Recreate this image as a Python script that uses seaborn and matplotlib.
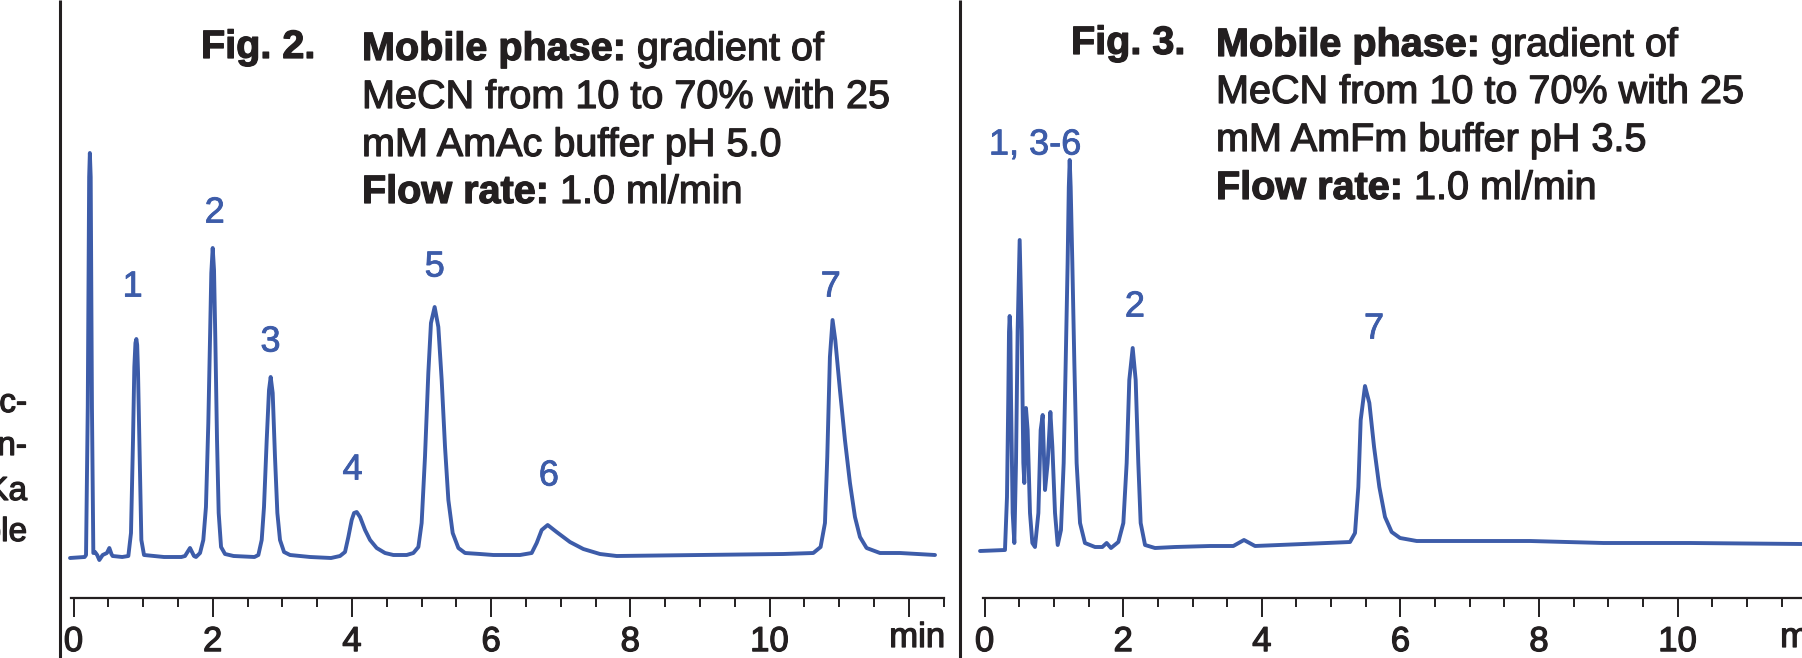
import matplotlib
matplotlib.use("Agg")
import matplotlib.pyplot as plt
import matplotlib.patheffects as pe
import seaborn as sns

# Fig. 2 chromatogram (AmAc buffer pH 5.0): time in min, signal in detector units
fig2_time = [-0.05, 0.16, 0.18, 0.205, 0.225, 0.235, 0.247, 0.265, 0.285,
             0.309, 0.34, 0.371, 0.419, 0.48, 0.515, 0.545, 0.562, 0.70, 0.788,
             0.826, 0.855, 0.874, 0.89, 0.903, 0.915, 0.927, 0.951, 0.975, 1.013,
             1.3, 1.55, 1.602, 1.674, 1.731, 1.76, 1.818,
             1.865, 1.903, 1.937, 1.961, 1.98, 2.0, 2.019, 2.038, 2.062, 2.086, 2.12, 2.177,
             2.3, 2.6, 2.656, 2.704, 2.737, 2.776, 2.809, 2.833, 2.862, 2.895, 2.929,
             2.967, 3.025, 3.111, 3.4, 3.7,
             3.829, 3.901, 3.949, 3.997, 4.031, 4.069, 4.117, 4.189, 4.261, 4.356,
             4.476, 4.596, 4.787,
             4.883, 4.955, 5.002, 5.05, 5.098, 5.136, 5.189, 5.242, 5.29, 5.338,
             5.386, 5.448, 5.53, 5.626, 5.841, 6.033,
             6.415, 6.583, 6.655, 6.727, 6.813, 6.941, 7.133, 7.325, 7.564, 7.804,
             9.0, 10.198, 10.629, 10.734, 10.797, 10.83, 10.868, 10.906, 10.945,
             11.012, 11.084, 11.156, 11.228, 11.3, 11.395, 11.587, 11.875, 12.378]
fig2_signal = [-1, 0, 2, 150, 380, 404, 380, 150, 4,
               5, 2, -3, 2, 4, 9, 3, 1, 0, 1,
               24, 117, 190, 214, 218, 212, 185, 100, 17, 2,
               0, 0, 1, 9, 1, 0, 4,
               17, 50, 134, 217, 284, 309, 287, 217, 117, 44, 10, 3,
               1, 0, 2, 17, 50, 117, 167, 180, 164, 100, 44,
               17, 5, 2, 0, -1,
               1, 5, 20, 37, 44, 45, 40, 27, 17, 9,
               4, 2, 2,
               4, 10, 34, 100, 184, 234, 250, 230, 177, 110,
               57, 24, 9, 4, 3, 2,
               2, 4, 14, 27, 32, 25, 15, 8, 3, 1,
               2, 3, 4, 10, 34, 100, 200, 237, 217,
               167, 117, 74, 40, 20, 9, 4, 4, 2]
fig2_peak_names = ["1", "2", "3", "4", "5", "6", "7"]
fig2_label_time = [0.85, 2.03, 2.83, 4.01, 5.19, 6.83, 10.88]
fig2_label_height = [270, 344, 215, 87, 290, 81, 270]

# Fig. 3 chromatogram (AmFm buffer pH 3.5)
fig3_time = [-0.066, 0.294, 0.323, 0.342, 0.352, 0.362, 0.372, 0.381, 0.405, 0.429,
             0.453, 0.477, 0.506, 0.535, 0.559, 0.573, 0.597, 0.621, 0.655, 0.689,
             0.727, 0.776, 0.809, 0.838, 0.872, 0.91, 0.949, 0.978, 1.016, 1.055,
             1.102, 1.141, 1.17, 1.198, 1.215, 1.228, 1.242, 1.266, 1.295, 1.328,
             1.377, 1.448, 1.593, 1.699, 1.761, 1.824, 1.93, 2.002, 2.05, 2.088,
             2.137, 2.18, 2.218, 2.252, 2.315, 2.459, 2.747,
             3.252, 3.589, 3.743, 3.902, 4.599, 5.273, 5.345, 5.393, 5.427, 5.489,
             5.552, 5.62, 5.696, 5.778, 5.874, 5.995, 6.235, 7.005, 7.871, 8.929,
             10.18, 11.8]
fig3_signal = [6, 7, 60, 160, 225, 241, 225, 160, 44, 14,
               94, 227, 317, 227, 94, 74, 149, 127, 44, 14,
               10, 44, 127, 142, 67, 94, 145, 110, 44, 12,
               27, 94, 194, 294, 370, 397, 370, 294, 194, 94,
               34, 14, 10, 10, 14, 9, 15, 34, 94, 177,
               209, 177, 94, 34, 12, 9, 10,
               11, 11, 17, 11, 13, 15, 24, 70, 137, 171,
               154, 110, 70, 40, 25, 19, 16, 16, 16, 14,
               14, 13]
fig3_peak_names = ["1, 3-6", "2", "7"]
fig3_label_time = [0.73, 2.17, 5.62]
fig3_label_height = [412, 250, 228]

fig2_title = "Fig. 2."
fig2_conditions = [("Mobile phase:", " gradient of"),
                   ("", "MeCN from 10 to 70% with 25"),
                   ("", "mM AmAc buffer pH 5.0"),
                   ("Flow rate:", " 1.0 ml/min")]
fig3_title = "Fig. 3."
fig3_conditions = [("Mobile phase:", " gradient of"),
                   ("", "MeCN from 10 to 70% with 25"),
                   ("", "mM AmFm buffer pH 3.5"),
                   ("Flow rate:", " 1.0 ml/min")]
side_words = ["ac-", "on-", "pKa", "ble"]
tick_values = [0, 2, 4, 6, 8, 10]

BLUE = "#3d5ca9"
INK = "#231f20"
W, H = 1802, 658

sns.set_style("white")
plt.rcParams["font.family"] = ["Liberation Sans", "DejaVu Sans"]

# the print is a bit heavier than plain Liberation Sans
thick_ink = [pe.withStroke(linewidth=0.9, foreground=INK)]
thick_blue = [pe.withStroke(linewidth=0.6, foreground=BLUE)]

fig = plt.figure(figsize=(W / 100, H / 100), dpi=100)


def add_panel(left_px, right_px, t_zero_px, px_per_min):
    ax = fig.add_axes([left_px / W, 60 / H, (right_px - left_px) / W, 458 / H])
    ax.set_xlim((left_px - t_zero_px) / px_per_min, (right_px - t_zero_px) / px_per_min)
    ax.set_ylim(-41, 417)
    ax.patch.set_visible(False)
    return ax


def style_axis(ax, last_major, minor_end, spine_end):
    sns.despine(ax=ax, left=True, top=True, right=True)
    ax.spines["bottom"].set_linewidth(1.6)
    ax.spines["bottom"].set_color(INK)
    ax.spines["bottom"].set_bounds(-0.03, spine_end)
    ax.set_yticks([])
    majors = list(range(0, last_major + 1, 2))
    ax.set_xticks(majors)
    ax.set_xticklabels([str(v) if v in tick_values else "" for v in majors])
    ax.set_xticks([v * 0.5 for v in range(0, int(minor_end * 2) + 1)], minor=True)
    ax.tick_params(axis="x", which="both", bottom=True, top=False)
    ax.tick_params(axis="x", which="major", direction="out", length=13.5, width=1.4,
                   color=INK, labelsize=25, labelcolor=INK, pad=6)
    ax.tick_params(axis="x", which="minor", direction="out", length=6.5, width=1.4,
                   color=INK)
    for lab in ax.get_xticklabels():
        lab.set_path_effects(thick_ink)
    ax.set_xlabel("")
    ax.set_ylabel("")


def draw_trace(ax, times, signal, names, lab_t, lab_h):
    sns.lineplot(x=times, y=signal, ax=ax, color=BLUE, linewidth=2.8,
                 estimator=None, sort=False)
    for name, t, h in zip(names, lab_t, lab_h):
        ax.text(t, h, name, color=BLUE, fontsize=26, ha="center", va="center",
                path_effects=thick_blue)


ax2 = add_panel(62, 950, 73.5, 69.6)
draw_trace(ax2, fig2_time, fig2_signal, fig2_peak_names, fig2_label_time, fig2_label_height)
style_axis(ax2, 12, 12.5, 12.5)
ax2.text(11.72, -90, "min", fontsize=25, color=INK, ha="left", va="baseline",
         clip_on=False, path_effects=thick_ink)

ax3 = add_panel(965, W, 984.6, 69.3)
draw_trace(ax3, fig3_time, fig3_signal, fig3_peak_names, fig3_label_time, fig3_label_height)
style_axis(ax3, 10, 11.5, 12)
ax3.text(11.48, -90, "min", fontsize=25, color=INK, ha="left", va="baseline",
         clip_on=False, path_effects=thick_ink)

# overlay in pixel coordinates for captions and column rules
over = fig.add_axes([0, 0, 1, 1])
over.set_xlim(0, W)
over.set_ylim(H, 0)
over.axis("off")
over.patch.set_visible(False)

for xr in (60, 960):
    over.plot([xr, xr], [0, H], color=INK, linewidth=2.2, solid_capstyle="butt")

for word, yb in zip(side_words, [412, 455, 500, 541]):
    over.text(27, yb, word, fontsize=24, color=INK, ha="right", va="baseline",
              path_effects=thick_ink)


def caption(x_title, x_text, baselines, title, lines):
    over.text(x_title, baselines[0] - 2, title, fontsize=28.5, fontweight="bold",
              color=INK, ha="left", va="baseline", path_effects=thick_ink)
    for (bold, regular), yb in zip(lines, baselines):
        if bold:
            b = over.text(x_text, yb, bold, fontsize=28.5, fontweight="bold",
                          color=INK, ha="left", va="baseline", path_effects=thick_ink)
            over.annotate(regular, xy=(1, 0), xycoords=b, fontsize=28.5,
                          color=INK, ha="left", va="bottom", path_effects=thick_ink)
        else:
            over.text(x_text, yb, regular, fontsize=28.5, color=INK,
                      ha="left", va="baseline", path_effects=thick_ink)


caption(201, 362, [60, 108, 156, 203], fig2_title, fig2_conditions)
caption(1071, 1216, [56, 103, 151, 199], fig3_title, fig3_conditions)

fig.savefig("out.png", dpi=100)
